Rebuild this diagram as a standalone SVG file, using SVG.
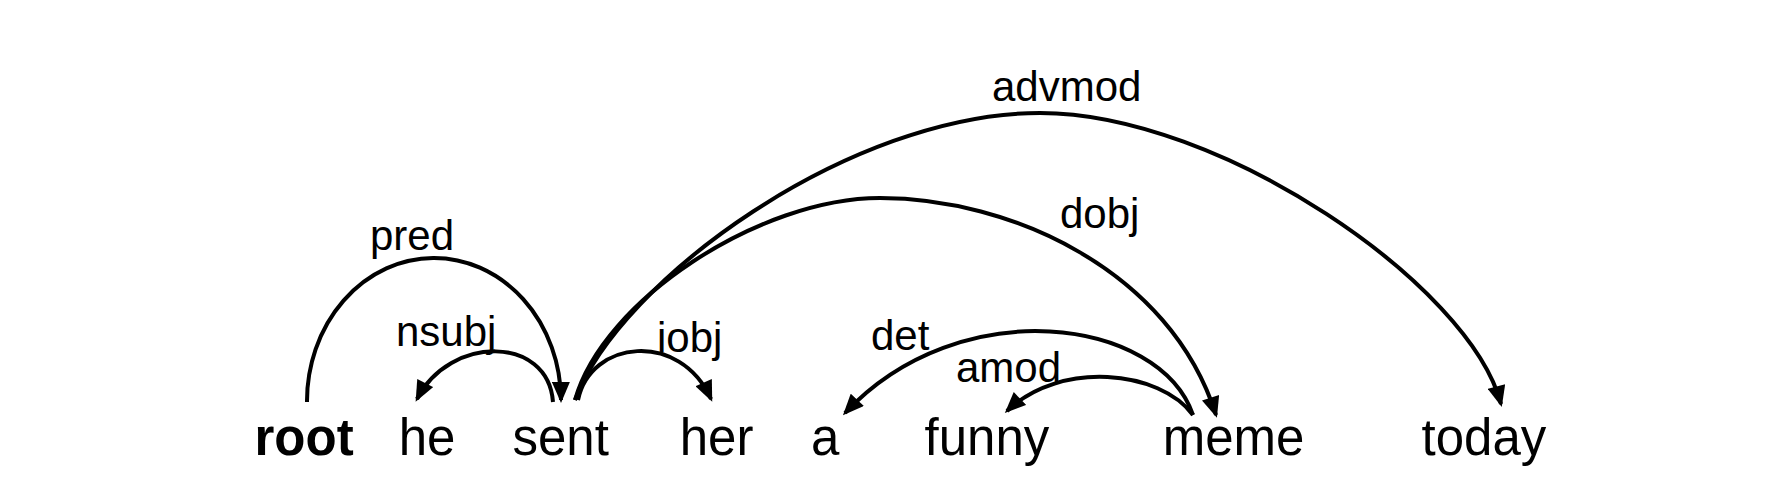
<svg xmlns="http://www.w3.org/2000/svg" width="1777" height="492" viewBox="0 0 1777 492">
<style>
.word{font-family:"Liberation Sans",Arial,Helvetica,sans-serif;font-size:51px;fill:#000}
.root{font-weight:bold}
.lbl{font-family:"Liberation Sans",Arial,Helvetica,sans-serif;font-size:42px;fill:#000}
.arc{fill:none;stroke:#000;stroke-width:4;stroke-linecap:butt}
.arr{marker-end:url(#ah)}
</style>
<defs>
<marker id="ah" markerUnits="userSpaceOnUse" markerWidth="22" markerHeight="18" viewBox="0 0 21 18" refX="18" refY="9" orient="auto">
<path d="M0,0 L21,9 L0,18 z" fill="#000"/>
</marker>
</defs>
<rect width="1777" height="492" fill="#fff"/>
<g id="connectors">
<g id="e-pred"><path class="arc arr" d="M307,402 A127,143 0 0 1 561,400"/><text class="lbl" x="370" y="250">pred</text></g>
<g id="e-nsubj"><path class="arc arr" d="M553,402 C548,335 450,335 417,399"/><text class="lbl" x="396" y="346">nsubj</text></g>
<g id="e-iobj"><path class="arc arr" d="M578,400 C590,340 680,330 711,399"/><text class="lbl" x="657" y="352">iobj</text></g>
<g id="e-dobj"><path class="arc arr" d="M575,400 C603,300 760,198 880,198 C1010,198 1170,270 1216,415"/><text class="lbl" x="1060" y="228">dobj</text></g>
<g id="e-advmod"><path class="arc arr" d="M575,400 C620,280 850,113 1040,113 C1220,113 1470,285 1501,404"/><text class="lbl" x="992" y="101">advmod</text></g>
<g id="e-det"><path class="arc arr" d="M1193,415 C1160,318 960,290 845,413"/><text class="lbl" x="871" y="350">det</text></g>
<g id="e-amod"><path class="arc arr" d="M1193,415 C1160,370 1060,360 1007,411"/><text class="lbl" x="956" y="382">amod</text></g>
</g>
<g id="n-root"><text class="word root" x="254.5" y="455">root</text></g>
<g id="n-he"><text class="word" x="398.7" y="455">he</text></g>
<g id="n-sent"><text class="word" x="512.5" y="455">sent</text></g>
<g id="n-her"><text class="word" x="679.7" y="455">her</text></g>
<g id="n-a"><text class="word" x="811" y="455">a</text></g>
<g id="n-funny"><text class="word" x="924.5" y="455">funny</text></g>
<g id="n-meme"><text class="word" x="1162.7" y="455">meme</text></g>
<g id="n-today"><text class="word" x="1421.5" y="455">today</text></g>
</svg>
